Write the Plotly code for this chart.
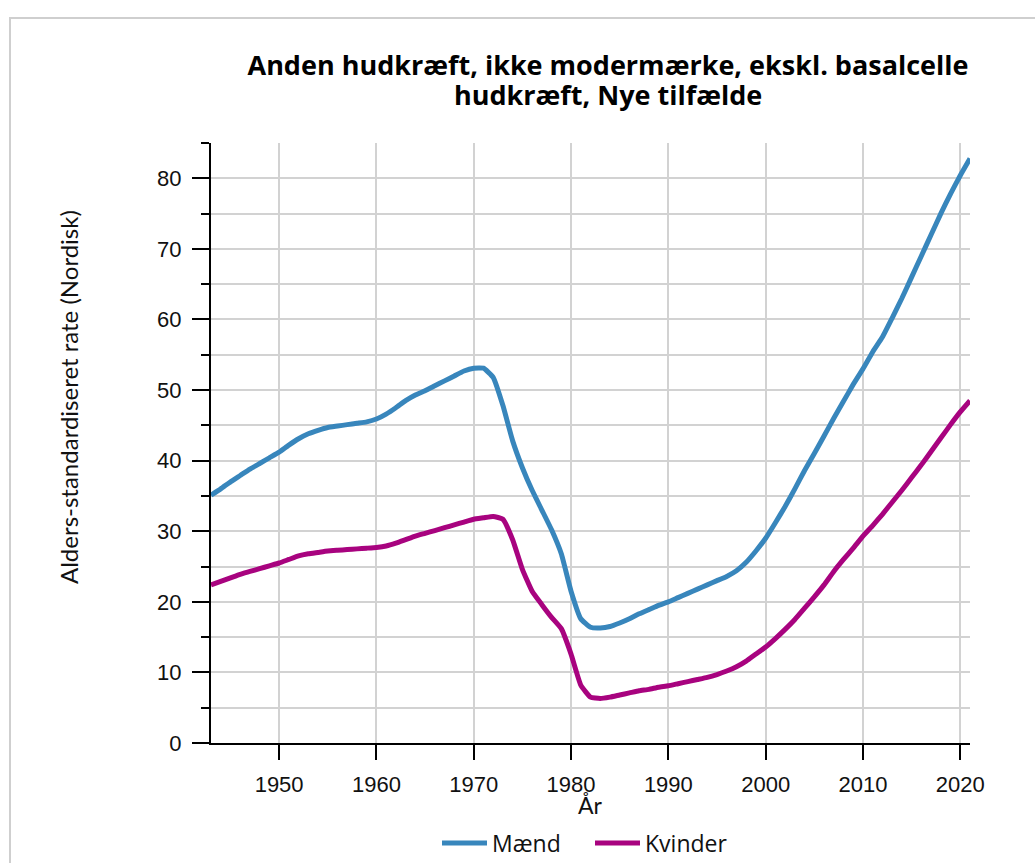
import plotly.graph_objects as go

years = list(range(1943, 2022))

maend = [35.1, 36.0, 37.0, 37.9, 38.8, 39.6, 40.4, 41.2, 42.2, 43.1,
         43.8, 44.3, 44.7, 44.9, 45.1, 45.3, 45.5, 45.9, 46.6, 47.5,
         48.5, 49.3, 49.9, 50.6, 51.3, 52.0, 52.7, 53.1, 53.1, 51.8,
         47.8, 42.8, 39.0, 35.8, 33.0, 30.2, 26.8, 21.5, 17.6, 16.4,
         16.3, 16.5, 17.0, 17.6, 18.3, 18.9, 19.5, 20.0, 20.6, 21.2,
         21.8, 22.4, 23.0, 23.6, 24.4, 25.6, 27.2, 29.0, 31.2, 33.5,
         36.0, 38.6, 41.0, 43.5, 46.0, 48.4, 50.8, 53.0, 55.4, 57.5,
         60.2, 63.0, 66.0, 69.0, 72.0, 75.0, 77.8, 80.4, 82.8]

kvinder = [22.4, 22.9, 23.4, 23.9, 24.3, 24.7, 25.1, 25.5, 26.0, 26.5,
           26.8, 27.0, 27.2, 27.3, 27.4, 27.5, 27.6, 27.7, 27.9, 28.3,
           28.8, 29.3, 29.7, 30.1, 30.5, 30.9, 31.3, 31.7, 31.9, 32.1,
           31.7, 28.8, 24.6, 21.5, 19.6, 17.8, 16.2, 12.6, 8.2, 6.5,
           6.3, 6.5, 6.8, 7.1, 7.4, 7.6, 7.9, 8.1, 8.4, 8.7,
           9.0, 9.3, 9.7, 10.2, 10.8, 11.6, 12.6, 13.6, 14.8, 16.1,
           17.5, 19.1, 20.7, 22.4, 24.3, 26.0, 27.6, 29.3, 30.8, 32.4,
           34.1, 35.8, 37.6, 39.4, 41.3, 43.2, 45.1, 46.9, 48.5]

series_names = ["Mænd", "Kvinder"]
colors = ["#3886BC", "#A8037F"]

title_line1 = "Anden hudkræft, ikke modermærke, ekskl. basalcelle"
title_line2 = "hudkræft, Nye tilfælde"
y_title = "Alders-standardiseret rate (Nordisk)"
x_title = "År"

fig = go.Figure()
for name, vals, col in zip(series_names, [maend, kvinder], colors):
    fig.add_trace(go.Scatter(x=years, y=vals, mode="lines", name=name,
                             line=dict(color=col, width=5, shape="spline", smoothing=0.4)))

W, H = 1035, 863
L, R, T, B = 211, 65, 143, 120
pw, ph = W - L - R, H - T - B

title_font = dict(family="Open Sans, sans-serif", size=27, color="#000", weight="bold")

fig.update_layout(
    width=W, height=H,
    margin=dict(l=L, r=R, t=T, b=B, autoexpand=False),
    paper_bgcolor="white", plot_bgcolor="white",
    font=dict(family="Liberation Sans, Arial, sans-serif", size=22, color="#111"),
    title=dict(text=title_line1, x=608 / W, xref="container", xanchor="center",
               y=1 - 66 / H, yref="container", yanchor="middle", font=title_font),
    showlegend=True,
    legend=dict(orientation="h", x=(437 - L) / pw, xanchor="left", y=-(843 - 743) / ph, yanchor="middle",
                font=dict(family="Open Sans, sans-serif", size=23, color="#111"),
                itemwidth=45, entrywidth=93, tracegroupgap=0),
)

fig.add_annotation(text=title_line2, xref="paper", yref="paper",
                   x=(608 - L) / pw, y=1 + (T - 95) / ph, xanchor="center", yanchor="middle",
                   showarrow=False, font=title_font)

fig.update_xaxes(
    range=[1943, 2021], tickvals=[1950, 1960, 1970, 1980, 1990, 2000, 2010, 2020],
    showgrid=True, gridcolor="#d2d2d2", gridwidth=1.5,
    showline=True, linecolor="black", linewidth=2,
    ticks="outside", ticklen=15, tickwidth=2, tickcolor="black",
    ticklabelstandoff=6, zeroline=False,
)
fig.update_yaxes(
    range=[0, 85], tickvals=[0, 10, 20, 30, 40, 50, 60, 70, 80],
    showgrid=True, gridcolor="#d2d2d2", gridwidth=1.5,
    showline=True, linecolor="black", linewidth=2,
    ticks="outside", ticklen=17, tickwidth=2, tickcolor="black",
    ticklabelstandoff=6, zeroline=False,
    minor=dict(tickvals=[5, 15, 25, 35, 45, 55, 65, 75, 85], ticks="outside", ticklen=8,
               tickwidth=2, tickcolor="black", showgrid=True, gridcolor="#d2d2d2", gridwidth=1.5),
)

fig.add_annotation(text=y_title, textangle=-90, xref="paper", yref="paper",
                   x=(68 - L) / pw, y=(743 - 397) / ph, xanchor="center", yanchor="middle",
                   showarrow=False, font=dict(family="Lato, sans-serif", size=24, color="#111"))
fig.add_annotation(text=x_title, xref="paper", yref="paper",
                   x=(590 - L) / pw, y=-(805 - 743) / ph, xanchor="center", yanchor="middle",
                   showarrow=False, font=dict(family="Lato, sans-serif", size=23, color="#111"))

# outer frame
fig.add_shape(type="rect", xref="paper", yref="paper",
              x0=(10 - L) / pw, x1=(W + 20 - L) / pw,
              y0=-(H + 20 - 743) / ph, y1=1 + (T - 18) / ph,
              line=dict(color="#cfcfcf", width=2), layer="below")

fig.write_html("out.html", config={"displayModeBar": False},
               post_script="document.body.style.margin='0px';document.body.style.overflow='hidden';")
